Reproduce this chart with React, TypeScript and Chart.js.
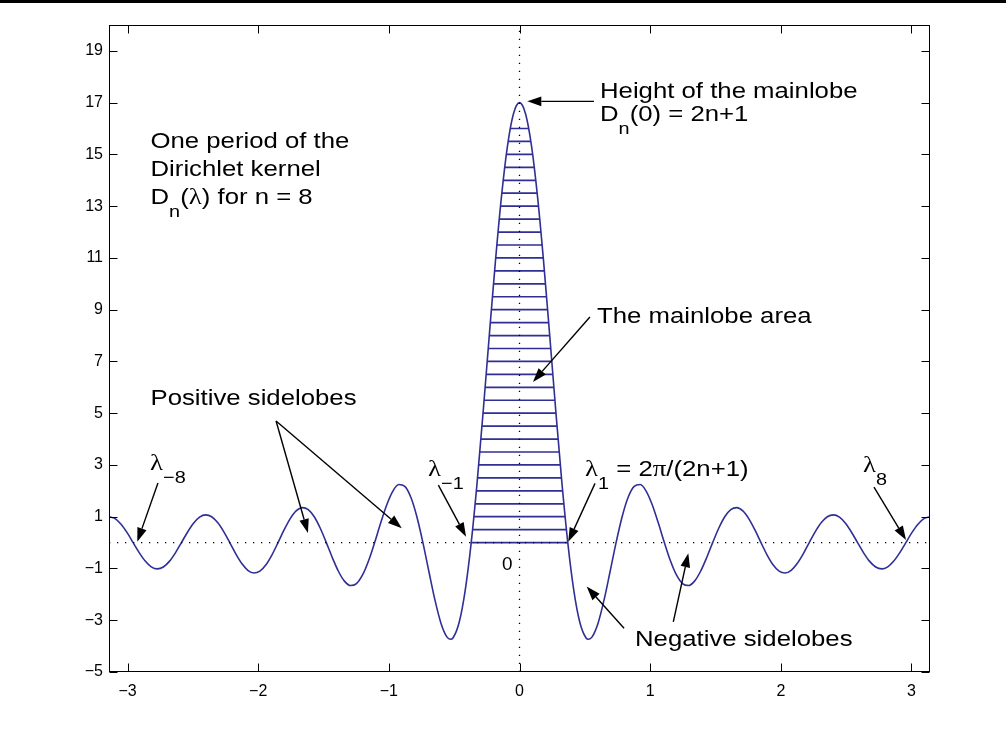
import React, { useEffect, useRef } from "react";
import { Chart, registerables } from "chart.js";

Chart.register(...registerables);

// Sample positions (lambda) and kernel values
const lambdaGrid = [
  -3.1416, -3.0954, -3.0492, -3.003, -2.9568, -2.9106, -2.8644, -2.8182, -2.772, -2.7258,
  -2.6796, -2.6334, -2.5872, -2.541, -2.4948, -2.4486, -2.4024, -2.3562, -2.31, -2.2638,
  -2.2176, -2.1714, -2.1252, -2.079, -2.0328, -1.9866, -1.9404, -1.8942, -1.848, -1.8018,
  -1.7556, -1.7094, -1.6632, -1.617, -1.5708, -1.5246, -1.4784, -1.4322, -1.386, -1.3398,
  -1.2936, -1.2474, -1.2012, -1.155, -1.1088, -1.0626, -1.0164, -0.9702, -0.924, -0.8778,
  -0.8316, -0.7854, -0.7392, -0.693, -0.6468, -0.6006, -0.5544, -0.529, -0.5082, -0.462, -0.4158,
  -0.3696, -0.3234, -0.2772, -0.231, -0.1848, -0.1386, -0.0924, -0.0462,
  0,
  0.0462, 0.0924, 0.1386, 0.1848, 0.231, 0.2772, 0.3234, 0.3696, 0.4158, 0.462,
  0.5082, 0.529, 0.5544, 0.6006, 0.6468, 0.693, 0.7392, 0.7854, 0.8316, 0.8778, 0.924,
  0.9702, 1.0164, 1.0626, 1.1088, 1.155, 1.2012, 1.2474, 1.2936, 1.3398, 1.386,
  1.4322, 1.4784, 1.5246, 1.5708, 1.617, 1.6632, 1.7094, 1.7556, 1.8018, 1.848,
  1.8942, 1.9404, 1.9866, 2.0328, 2.079, 2.1252, 2.1714, 2.2176, 2.2638, 2.31,
  2.3562, 2.4024, 2.4486, 2.4948, 2.541, 2.5872, 2.6334, 2.6796, 2.7258, 2.772,
  2.8182, 2.8644, 2.9106, 2.9568, 3.003, 3.0492, 3.0954, 3.1416,
];

const kernelValues = [
  1.0, 0.924, 0.708, 0.384, 0, -0.385, -0.714, -0.936, -1.017, -0.944,
  -0.726, -0.395, 0, 0.401, 0.746, 0.982, 1.072, 1.0, 0.773, 0.423,
  0, -0.433, -0.809, -1.072, -1.176, -1.103, -0.857, -0.471, 0, 0.488,
  0.919, 1.225, 1.353, 1.277, 1.0, 0.554, 0, -0.583, -1.107, -1.488,
  -1.659, -1.582, -1.251, -0.701, 0, 0.755, 1.453, 1.981, 2.243, 2.174,
  1.751, 1.0, 0, -1.127, -2.225, -3.123, -3.654, -3.735, -3.675, -3.088, -1.854,
  0, 2.377, 5.118, 8.017, 10.838, 13.342, 15.311, 16.568,
  17.0,
  16.568, 15.311, 13.342, 10.838, 8.017, 5.118, 2.377, 0, -1.854, -3.088,
  -3.675, -3.735, -3.654, -3.123, -2.225, -1.127, 0, 1.0, 1.751, 2.174, 2.243,
  1.981, 1.453, 0.755, 0, -0.701, -1.251, -1.582, -1.659, -1.488, -1.107,
  -0.583, 0, 0.554, 1.0, 1.277, 1.353, 1.225, 0.919, 0.488, 0,
  -0.471, -0.857, -1.103, -1.176, -1.072, -0.809, -0.433, 0, 0.423, 0.773,
  1.0, 1.072, 0.982, 0.746, 0.401, 0, -0.395, -0.726, -0.944, -1.017,
  -0.936, -0.714, -0.385, 0, 0.384, 0.708, 0.924, 1.0,
];

// Horizontal hatch lines filling the mainlobe
const hatchLevels = [
  0, 0.5, 1, 1.5, 2, 2.5, 3, 3.5, 4, 4.5, 5, 5.5, 6, 6.5, 7, 7.5, 8,
  8.5, 9, 9.5, 10, 10.5, 11, 11.5, 12, 12.5, 13, 13.5, 14, 14.5, 15, 15.5, 16,
];
const hatchHalfWidths = [
  0.3696, 0.3592, 0.3491, 0.3396, 0.3302, 0.3212, 0.3125, 0.3039, 0.2955, 0.2872,
  0.2791, 0.271, 0.263, 0.2551, 0.2472, 0.2392, 0.2313, 0.2233, 0.2153, 0.2072,
  0.1989, 0.1906, 0.1821, 0.1733, 0.1644, 0.155, 0.1455, 0.1354, 0.1247, 0.1133,
  0.1009, 0.0869, 0.0706,
];

const xTickValues = [-3, -2, -1, 0, 1, 2, 3];
const yTickValues = [-5, -3, -1, 1, 3, 5, 7, 9, 11, 13, 15, 17, 19];
const xRange = [-3.1416, 3.1416];
const yRange = [-5, 20];

const SANS = "'Liberation Sans', Arial, Helvetica, sans-serif";
const SERIF = "'Liberation Serif', 'Times New Roman', serif";
const CURVE = "#2f2f95";

type Seg = { t: string; serif?: boolean; sub?: boolean };
type Note = { x: number; y: number; segs: Seg[]; size?: number; sx?: number };

const textNotes: Note[] = [
  { x: -2.824, y: 15.24, segs: [{ t: "One period of the" }] },
  { x: -2.824, y: 14.15, segs: [{ t: "Dirichlet kernel" }] },
  { x: -2.824, y: 13.08, segs: [{ t: "D" }, { t: "n", sub: true }, { t: "(" }, { t: "λ", serif: true }, { t: ") for n = 8" }] },
  { x: 0.616, y: 17.19, segs: [{ t: "Height of the mainlobe" }] },
  { x: 0.616, y: 16.29, segs: [{ t: "D" }, { t: "n", sub: true }, { t: "(0) = 2n+1" }] },
  { x: 0.593, y: 8.49, segs: [{ t: "The mainlobe area" }] },
  { x: -2.824, y: 5.32, segs: [{ t: "Positive sidelobes" }] },
  { x: 0.884, y: -3.98, segs: [{ t: "Negative sidelobes" }] },
  { x: -2.828, y: 2.81, segs: [{ t: "λ", serif: true }, { t: "−8", sub: true }] },
  { x: -0.7, y: 2.57, segs: [{ t: "λ", serif: true }, { t: "−1", sub: true }] },
  { x: 0.501, y: 2.57, segs: [{ t: "λ", serif: true }, { t: "1", sub: true }, { t: " = 2" }, { t: "π", serif: true }, { t: "/(2n+1)" }] },
  { x: 2.629, y: 2.74, segs: [{ t: "λ", serif: true }, { t: "8", sub: true }] },
  { x: -0.134, y: -1.06, segs: [{ t: "0" }], size: 18, sx: 1.05 },
];

const arrowNotes: { from: [number, number]; to: [number, number] }[] = [
  { from: [0.57, 17.05], to: [0.06, 17.05] },
  { from: [0.539, 8.72], to: [0.103, 6.21] },
  { from: [-1.863, 4.7], to: [-1.619, 0.37] },
  { from: [-1.863, 4.7], to: [-0.901, 0.55] },
  { from: [-2.767, 2.3], to: [-2.925, 0.03] },
  { from: [-0.621, 2.22], to: [-0.409, 0.23] },
  { from: [0.578, 2.29], to: [0.373, 0.03] },
  { from: [0.8, -3.31], to: [0.514, -1.7] },
  { from: [1.177, -3.06], to: [1.292, -0.41] },
  { from: [2.713, 2.14], to: [2.958, 0.1] },
];

const MAIN_SIZE = 22;
const SUB_SIZE = 17;
const SUB_DY = 13;
const STRETCH = 1.17;

function drawRich(ctx: CanvasRenderingContext2D, px: number, py: number, note: Note) {
  const size = note.size ?? MAIN_SIZE;
  const sx = note.sx ?? STRETCH;
  let cx = px;
  ctx.textBaseline = "alphabetic";
  ctx.textAlign = "left";
  for (const s of note.segs) {
    const fs = s.sub ? SUB_SIZE : s.serif ? size + 1 : size;
    ctx.font = `${fs}px ${s.serif ? SERIF : SANS}`;
    const w = ctx.measureText(s.t).width * sx;
    ctx.save();
    ctx.translate(cx, py + (s.sub ? SUB_DY : 0));
    ctx.scale(sx, 1);
    ctx.fillText(s.t, 0, 0);
    ctx.restore();
    cx += w;
  }
}

function drawArrow(ctx: CanvasRenderingContext2D, x1: number, y1: number, x2: number, y2: number) {
  const ang = Math.atan2(y2 - y1, x2 - x1);
  const hl = 14;
  const hw = 4.8;
  const bx = x2 - hl * Math.cos(ang);
  const by = y2 - hl * Math.sin(ang);
  ctx.beginPath();
  ctx.moveTo(x1, y1);
  ctx.lineTo(bx, by);
  ctx.stroke();
  ctx.beginPath();
  ctx.moveTo(x2, y2);
  ctx.lineTo(bx + hw * Math.sin(ang), by - hw * Math.cos(ang));
  ctx.lineTo(bx - hw * Math.sin(ang), by + hw * Math.cos(ang));
  ctx.closePath();
  ctx.fill();
}

const framePlugin = {
  id: "framePlugin",
  afterDraw(chart: any) {
    const { ctx, chartArea: a, scales } = chart;
    const xs = scales.x;
    const ys = scales.y;
    ctx.save();
    // page top rule
    ctx.fillStyle = "#000";
    ctx.fillRect(0, 0, chart.width, 3);
    // axes box
    ctx.strokeStyle = "#000";
    ctx.lineWidth = 1;
    const L = Math.round(a.left) + 0.5;
    const R = Math.round(a.right) - 0.5;
    const T = Math.round(a.top) + 0.5;
    const B = Math.round(a.bottom) - 0.5;
    ctx.strokeRect(L, T, R - L, B - T);
    const tl = 8;
    ctx.beginPath();
    for (const v of xTickValues) {
      const p = Math.round(xs.getPixelForValue(v)) + 0.5;
      ctx.moveTo(p, B);
      ctx.lineTo(p, B - tl);
      ctx.moveTo(p, T);
      ctx.lineTo(p, T + tl);
    }
    for (const v of yTickValues) {
      const p = Math.round(ys.getPixelForValue(v)) + 0.5;
      ctx.moveTo(L, p);
      ctx.lineTo(L + tl, p);
      ctx.moveTo(R, p);
      ctx.lineTo(R - tl, p);
    }
    ctx.stroke();
    // arrows
    ctx.lineWidth = 1.4;
    ctx.fillStyle = "#000";
    for (const ar of arrowNotes) {
      drawArrow(
        ctx,
        xs.getPixelForValue(ar.from[0]),
        ys.getPixelForValue(ar.from[1]),
        xs.getPixelForValue(ar.to[0]),
        ys.getPixelForValue(ar.to[1])
      );
    }
    // texts
    ctx.fillStyle = "#000";
    for (const n of textNotes) {
      drawRich(ctx, xs.getPixelForValue(n.x), ys.getPixelForValue(n.y), n);
    }
    ctx.restore();
  },
};

export default function App() {
  const ref = useRef<HTMLCanvasElement | null>(null);

  useEffect(() => {
    if (!ref.current) return;
    const curve = lambdaGrid.map((x, i) => ({ x, y: kernelValues[i] }));
    const hatch: { x: number; y: number | null }[] = [];
    hatchLevels.forEach((lv, i) => {
      hatch.push({ x: -hatchHalfWidths[i], y: lv });
      hatch.push({ x: hatchHalfWidths[i], y: lv });
      hatch.push({ x: 0, y: null });
    });
    const zeroLine = xRange.map((x) => ({ x, y: 0 }));
    const centerLine = yRange.map((y) => ({ x: 0, y }));

    const chart = new Chart(ref.current, {
      type: "line",
      data: {
        datasets: [
          {
            data: zeroLine,
            borderColor: "#000",
            borderWidth: 1.3,
            borderDash: [1.3, 6.7],
            pointRadius: 0,
            tension: 0,
          },
          {
            data: centerLine,
            borderColor: "#000",
            borderWidth: 1.3,
            borderDash: [1.3, 6.7],
            pointRadius: 0,
            tension: 0,
          },
          {
            data: hatch as any,
            borderColor: CURVE,
            borderWidth: 1.7,
            pointRadius: 0,
            tension: 0,
            spanGaps: false,
          },
          {
            data: curve,
            borderColor: CURVE,
            borderWidth: 1.6,
            pointRadius: 0,
            cubicInterpolationMode: "monotone",
          },
        ],
      },
      options: {
        animation: false,
        responsive: false,
        devicePixelRatio: 1,
        events: [],
        layout: { padding: { left: 0, right: 76, top: 25, bottom: 21 } },
        plugins: { legend: { display: false }, tooltip: { enabled: false } },
        scales: {
          x: {
            type: "linear",
            min: xRange[0],
            max: xRange[1],
            grid: { display: false, drawTicks: false },
            border: { display: false },
            afterBuildTicks: (s: any) => {
              s.ticks = xTickValues.map((value) => ({ value }));
            },
            afterFit: (s: any) => {
              s.height = 40;
            },
            ticks: {
              autoSkip: false,
              maxRotation: 0,
              padding: 10,
              color: "#000",
              font: { family: SANS, size: 16 },
              callback: (v: any) => String(v).replace("-", "\u2212"),
            },
          },
          y: {
            type: "linear",
            min: yRange[0],
            max: yRange[1],
            grid: { display: false, drawTicks: false },
            border: { display: false },
            afterBuildTicks: (s: any) => {
              s.ticks = yTickValues.map((value) => ({ value }));
            },
            afterFit: (s: any) => {
              s.width = 109;
            },
            ticks: {
              autoSkip: false,
              padding: 6,
              color: "#000",
              font: { family: SANS, size: 16 },
              callback: (v: any) => String(v).replace("-", "\u2212"),
            },
          },
        },
      },
      plugins: [framePlugin],
    });
    return () => chart.destroy();
  }, []);

  return (
    <div style={{ position: "absolute", left: 0, top: 0, width: 1006, height: 733, background: "#fff" }}>
      <canvas ref={ref} width={1006} height={733} />
    </div>
  );
}
